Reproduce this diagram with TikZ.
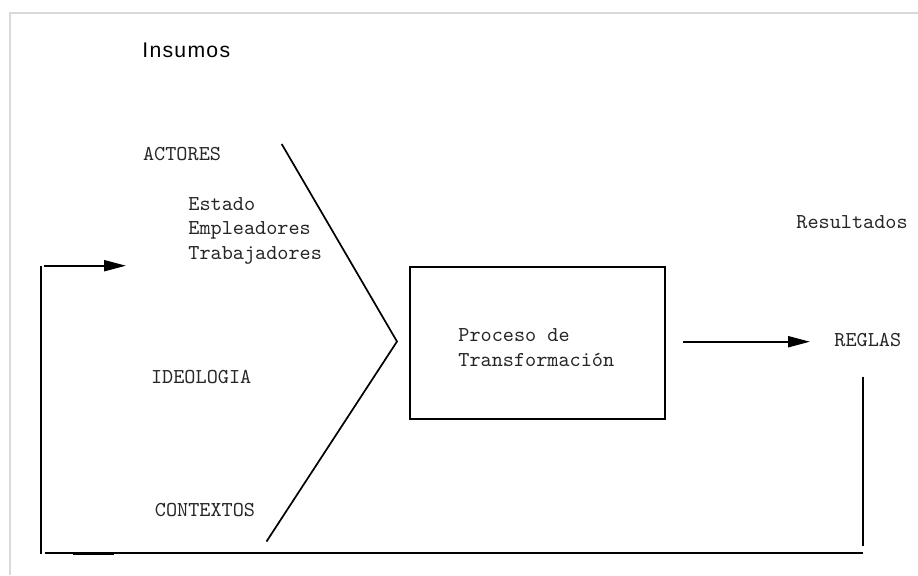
\documentclass[tikz,border=0pt]{standalone}
\usepackage{fontspec}
\setmainfont{Liberation Sans}
\usetikzlibrary{arrows.meta}
\begin{document}
\begin{tikzpicture}[x=0.5pt,y=-0.5pt,
  lbl/.style={font=\ttfamily\fontsize{10.6pt}{12.25pt}\selectfont,anchor=base west,inner sep=0pt,text=black!85},
  ttl/.style={font=\fontsize{10.6pt}{13pt}\selectfont\addfontfeature{LetterSpace=6},anchor=base west,inner sep=0pt},
  wire/.style={line width=1pt,black},
  arr/.style={wire,-{Triangle[length=11pt,width=5.5pt]}},
  frame/.style={line width=1pt,black!15}]
\useasboundingbox (0,0) rectangle (918,575);
% light frame
\draw[frame] (10,575) -- (10,12.5) -- (918,12.5);
% texts
\node[ttl] (insumos) at (142,57.3) {Insumos};
\node[lbl] (actores) at (142.7,160.7) {ACTORES};
\node[lbl] (estado) at (188,210) {Estado};
\node[lbl] (empl) at (188,234.5) {Empleadores};
\node[lbl] (trab) at (188,259) {Trabajadores};
\node[lbl] (ideo) at (150.7,383.3) {IDEOLOGIA};
\node[lbl] (cont) at (154.5,516.7) {CONTEXTOS};
\node[lbl] (result) at (796,228) {Resultados};
\node[lbl] (reglas) at (834,346.7) {REGLAS};
% process box
\node[draw,line width=1pt,minimum width=127.5pt,minimum height=76pt,inner sep=0pt] (box) at (537.5,343) {};
\node[lbl] (proc1) at (458,341.7) {Proceso de};
\node[lbl] (proc2) at (458,366.7) {Transformación};
% chevron
\coordinate (chtop) at (281.7,144);
\coordinate (chapex) at (397,341.5);
\coordinate (chbot) at (266.5,541.5);
\draw[line width=0.85pt,line join=miter] (chtop) -- (chapex) -- (chbot);
% arrows
\coordinate (outA) at (683,341.7);
\coordinate (outB) at (810,341.7);
\draw[arr] (outA) -- (outB);
\coordinate (inA) at (44,265.7);
\coordinate (inB) at (126,265.7);
\draw[arr] (inA) -- (inB);
% feedback loop
\coordinate (fbL1) at (40.7,266);
\coordinate (fbL2) at (40.7,554);
\coordinate (fbB1) at (45,553.3);
\coordinate (fbB2) at (863.3,553.3);
\coordinate (fbR1) at (863.3,376.7);
\coordinate (fbR2) at (863.3,546);
\draw[wire] (fbL1) -- (fbL2);
\draw[wire] (fbB1) -- (fbB2);
\draw[wire] (fbR1) -- (fbR2);
\coordinate (thA) at (72.7,553.3);
\coordinate (thB) at (114,553.3);
\draw[line width=1.6pt,black] (thA) -- (thB);
\end{tikzpicture}
\end{document}
